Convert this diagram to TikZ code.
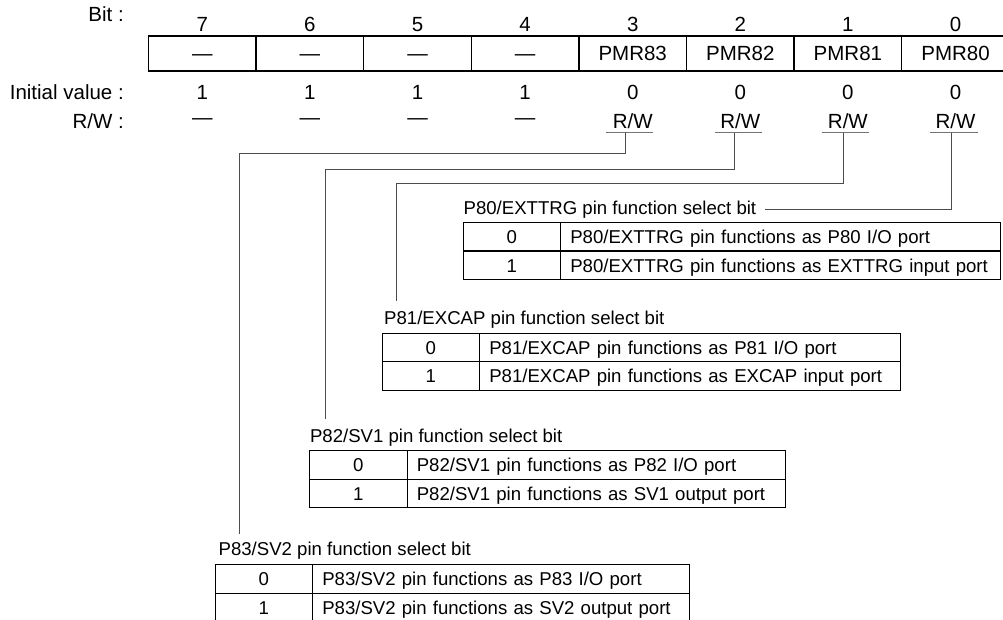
\documentclass[tikz,border=0pt]{standalone}
\usepackage{fontspec}
\setmainfont{Liberation Sans}
\newcommand\hdfont{\fontsize{20.5}{24}\selectfont}
\newcommand\lofont{\fontsize{18.6}{22}\selectfont}
\begin{document}
\begin{tikzpicture}[x=1pt,y=-1pt,
  hd/.style={font=\hdfont, inner sep=0pt, anchor=base},
  hdr/.style={font=\hdfont, inner sep=0pt, anchor=base east},
  lo/.style={font=\lofont, inner sep=0pt, anchor=base west},
  regcell/.style={draw, line width=1.3pt, minimum width=107.6pt, minimum height=35pt, inner sep=0pt, text height=14.7pt, text depth=0pt, font=\hdfont},
  numcell/.style={draw, line width=1.3pt, minimum width=97.5pt, minimum height=28.5pt, inner sep=0pt, text height=13.3pt, text depth=0pt, font=\lofont, anchor=north west},
  desccell/.style={draw, line width=1.3pt, minimum height=28.5pt, inner ysep=0pt, inner xsep=9.6pt, text height=13.3pt, text depth=0pt, align=left, font=\lofont, anchor=north west},
  lead/.style={draw=black!70, line width=1pt},
  uline/.style={draw=black!55, line width=1pt}]
\useasboundingbox (0,0) rectangle (1003,620);

% row labels
\node[hdr] (lbit) at (124,21.5) {Bit :};
\node[hdr] (linit) at (124,100) {Initial value :};
\node[hdr] (lrw) at (124,128.3) {R/W :};

% register
\foreach \i/\x/\t/\v in {7/202.3/—/1, 6/309.9/—/1, 5/417.5/—/1, 4/525.1/—/1,
                         3/632.7/PMR83/0, 2/740.3/PMR82/0, 1/847.9/PMR81/0, 0/955.5/PMR80/0} {
  \node[hd] (b\i) at (\x,31.7) {\i};
  \node[regcell] (r\i) at (\x,53.5) {\t};
  \node[hd] (iv\i) at (\x,100) {\v};
}
\foreach \i/\x in {7/202.3, 6/309.9, 5/417.5, 4/525.1} {
  \node[hd] (rw\i) at (\x,124.3) {—};
}
\foreach \i/\x in {3/632.7, 2/740.3, 1/847.9, 0/955.5} {
  \node[hd] (rw\i) at (\x,128.3) {R/W};
}

% underlines and leader start points
\draw[uline] (606,132.7) -- (653.3,132.7);
\draw[uline] (715,132.7) -- (761.7,132.7);
\draw[uline] (821.7,132.7) -- (869.3,132.7);
\draw[uline] (930,132.7) -- (978.3,132.7);

\coordinate (v3) at (625.7,132.7);
\coordinate (v2) at (734,132.7);
\coordinate (v1) at (843.3,132.7);
\coordinate (v0) at (951.7,132.7);
\coordinate (h3) at (239,153.3);
\coordinate (h2) at (325.7,169.3);
\coordinate (h1) at (396.7,184);
\coordinate (h0) at (764.6,209.3);
\coordinate (e3) at (239,534);
\coordinate (e2) at (325.7,419);
\coordinate (e1) at (396.7,300.7);

\draw[lead] (v3) |- (h3) -- (e3);
\draw[lead] (v2) |- (h2) -- (e2);
\draw[lead] (v1) |- (h1) -- (e1);
\draw[lead] (v0) |- (h0);

% P80 table
\node[lo] (t80) at (463.4,214.7) {P80/EXTTRG pin function select bit};
\node[numcell] (a0) at (462.5,222) {0};
\node[desccell, text width=420.8pt] (a0d) at (560,222) {P80/EXTTRG pin functions as P80 I/O port};
\node[numcell] (a1) at (462.5,250.5) {1};
\node[desccell, text width=420.8pt] (a1d) at (560,250.5) {P80/EXTTRG pin functions as EXTTRG input port};

% P81 table
\node[lo] (t81) at (384,324) {P81/EXCAP pin function select bit};
\node[numcell] (b0t) at (381.5,332.5) {0};
\node[desccell, text width=401.8pt] (b0d) at (479,332.5) {P81/EXCAP pin functions as P81 I/O port};
\node[numcell] (b1t) at (381.5,361) {1};
\node[desccell, text width=401.8pt] (b1d) at (479,361) {P81/EXCAP pin functions as EXCAP input port};

% P82 table
\node[lo] (t82) at (309.8,442.7) {P82/SV1 pin function select bit};
\node[numcell] (c0t) at (309,450) {0};
\node[desccell, text width=358.8pt] (c0d) at (406.5,450) {P82/SV1 pin functions as P82 I/O port};
\node[numcell] (c1t) at (309,478.5) {1};
\node[desccell, text width=358.8pt] (c1d) at (406.5,478.5) {P82/SV1 pin functions as SV1 output port};

% P83 table
\node[lo] (t83) at (218.4,555.7) {P83/SV2 pin function select bit};
\node[numcell] (d0t) at (214.5,564) {0};
\node[desccell, text width=357.8pt] (d0d) at (312,564) {P83/SV2 pin functions as P83 I/O port};
\node[numcell] (d1t) at (214.5,592.5) {1};
\node[desccell, text width=357.8pt] (d1d) at (312,592.5) {P83/SV2 pin functions as SV2 output port};
\end{tikzpicture}
\end{document}
